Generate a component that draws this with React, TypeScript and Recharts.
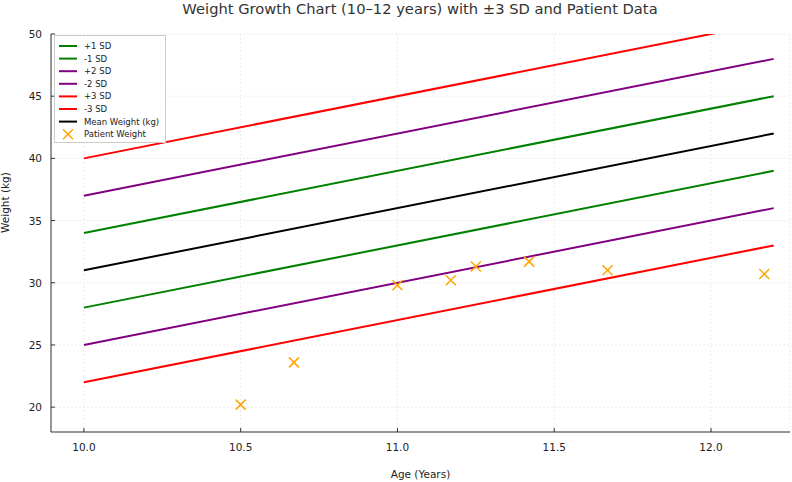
import {
  ComposedChart,
  Line,
  Scatter,
  XAxis,
  YAxis,
  CartesianGrid,
} from "recharts";

// growth reference bands: weight (kg) at age 10.0 and 12.2
const ages = [10.0, 12.2];
const meanWeight = [31, 42];
const plus1 = [34, 45];
const minus1 = [28, 39];
const plus2 = [37, 48];
const minus2 = [25, 36];
const plus3 = [40, 51];
const minus3 = [22, 33];

// patient measurements
const patientAges = [10.5, 10.67, 11.0, 11.17, 11.25, 11.42, 11.67, 12.17];
const patientWeights = [20.2, 23.6, 29.8, 30.2, 31.3, 31.7, 31.0, 30.7];

const xTicks = [10.0, 10.5, 11.0, 11.5, 12.0];
const yTicks = [20, 25, 30, 35, 40, 45, 50];

const WIDTH = 792;
const HEIGHT = 482;
const X_AXIS_H = 50;
const MARGIN = { top: 34, right: 2, bottom: 0, left: 0 };
const Y_AXIS_W = 51;
const PLOT_BOTTOM = HEIGHT - X_AXIS_H;
const FONT = "DejaVu Sans, sans-serif";
const AXIS_COLOR = "#333";
const TEXT_COLOR = "#222";

const toPoints = (ys: number[]) => ages.map((a, i) => ({ age: a, w: ys[i] }));

const series = [
  { name: "+1 SD", values: plus1, color: "#008000" },
  { name: "-1 SD", values: minus1, color: "#008000" },
  { name: "+2 SD", values: plus2, color: "#800080" },
  { name: "-2 SD", values: minus2, color: "#800080" },
  { name: "+3 SD", values: plus3, color: "#ff0000" },
  { name: "-3 SD", values: minus3, color: "#ff0000" },
  { name: "Mean Weight (kg)", values: meanWeight, color: "#000000" },
];

const patientData = patientAges.map((a, i) => ({ age: a, w: patientWeights[i] }));

function Cross(props: any) {
  const { cx, cy } = props;
  const s = 5;
  return (
    <g stroke="#ffa500" strokeWidth={1.5}>
      <line x1={cx - s} y1={cy - s} x2={cx + s} y2={cy + s} />
      <line x1={cx - s} y1={cy + s} x2={cx + s} y2={cy - s} />
    </g>
  );
}

function XTick(props: any) {
  const { x, payload } = props;
  return (
    <g>
      <line x1={x} y1={PLOT_BOTTOM} x2={x} y2={PLOT_BOTTOM - 4} stroke={AXIS_COLOR} strokeWidth={1} />
      <text x={x} y={PLOT_BOTTOM + 19} textAnchor="middle" fontSize={10.5} fill={TEXT_COLOR} fontFamily={FONT}>
        {Number(payload.value).toFixed(1)}
      </text>
    </g>
  );
}

function YTick(props: any) {
  const { y, payload } = props;
  return (
    <g>
      <line x1={Y_AXIS_W} y1={y} x2={Y_AXIS_W + 4} y2={y} stroke={AXIS_COLOR} strokeWidth={1} />
      <text x={Y_AXIS_W - 9} y={y + 4} textAnchor="end" fontSize={10.5} fill={TEXT_COLOR} fontFamily={FONT}>
        {payload.value}
      </text>
    </g>
  );
}

function LegendBox() {
  const rowH = 12.6;
  return (
    <div
      style={{
        position: "absolute",
        left: 54,
        top: 35,
        width: 112,
        height: 108,
        border: "1px solid #ccc",
        background: "#fff",
        boxSizing: "border-box",
      }}
    >
      <svg width={112} height={108} style={{ position: "absolute", left: 0, top: 0 }}>
        {series.map((s, i) => (
          <g key={s.name}>
            <line x1={4} x2={22} y1={10 + i * rowH} y2={10 + i * rowH} stroke={s.color} strokeWidth={2} />
            <text x={29} y={13 + i * rowH} fontSize={8.5} fill={TEXT_COLOR} fontFamily={FONT}>
              {s.name}
            </text>
          </g>
        ))}
        <Cross cx={13} cy={10 + 7 * rowH} />
        <text x={29} y={13 + 7 * rowH} fontSize={8.5} fill={TEXT_COLOR} fontFamily={FONT}>
          Patient Weight
        </text>
      </svg>
    </div>
  );
}

export default function App() {
  return (
    <div style={{ position: "absolute", left: 0, top: 0, width: WIDTH, height: HEIGHT, background: "#fff" }}>
      <div
        style={{
          position: "absolute",
          left: 0,
          top: 0,
          width: 840,
          textAlign: "center",
          fontFamily: FONT,
          fontSize: 14.7,
          color: "#333",
          lineHeight: "18px",
        }}
      >
        Weight Growth Chart (10–12 years) with ±3 SD and Patient Data
      </div>
      <ComposedChart width={WIDTH} height={HEIGHT} margin={MARGIN} style={{ position: "absolute", left: 0, top: 0 }}>
        <CartesianGrid stroke="#ececec" strokeDasharray="2 2" />
        <XAxis
          type="number"
          dataKey="age"
          domain={[9.895, 12.252]}
          allowDataOverflow
          ticks={xTicks}
          tick={<XTick />}
          tickLine={false}
          axisLine={{ stroke: AXIS_COLOR, strokeWidth: 1 }}
          height={X_AXIS_H}
          label={{ value: "Age (Years)", position: "insideBottom", offset: 4, fontSize: 10.5, fill: TEXT_COLOR, fontFamily: FONT }}
        />
        <YAxis
          type="number"
          dataKey="w"
          domain={[18, 50]}
          allowDataOverflow
          ticks={yTicks}
          tick={<YTick />}
          tickLine={false}
          width={Y_AXIS_W}
          axisLine={{ stroke: AXIS_COLOR, strokeWidth: 1 }}
          label={{ value: "Weight (kg)", angle: -90, position: "insideLeft", offset: 0, fontSize: 10.5, fill: TEXT_COLOR, fontFamily: FONT, dx: 5 }}
        />
        {series.map((s) => (
          <Line
            key={s.name}
            data={toPoints(s.values)}
            dataKey="w"
            name={s.name}
            stroke={s.color}
            strokeWidth={2}
            dot={false}
            activeDot={false}
            type="linear"
            isAnimationActive={false}
          />
        ))}
        <Scatter data={patientData} dataKey="w" name="Patient Weight" shape={<Cross />} isAnimationActive={false} />
      </ComposedChart>
      <LegendBox />
    </div>
  );
}
